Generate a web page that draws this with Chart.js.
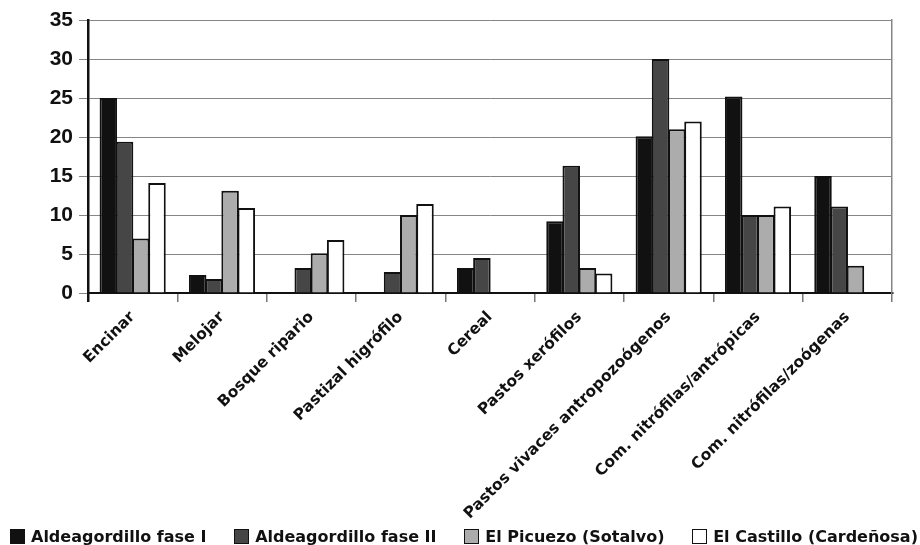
<!DOCTYPE html>
<html>
<head>
<meta charset="utf-8">
<script src="https://cdn.jsdelivr.net/npm/chart.js@4/dist/chart.umd.min.js"></script>
<style>
  html, body { margin: 0; padding: 0; background: #fff; }
  #wrap { position: relative; width: 920px; height: 545px; }
  #chart { display: block; }
  #legend {
    position: absolute; left: 10px; right: 2px; top: 527px;
    display: flex; justify-content: space-between;
    font: bold 16px "DejaVu Sans", Verdana, sans-serif; color: #111;
    white-space: nowrap;
  }
  #legend span.item { display: flex; align-items: center; }
  #legend span.box {
    display: inline-block; width: 13px; height: 13px;
    border: 1.5px solid #111; margin-right: 6px;
  }
</style>
</head>
<body>
<div id="wrap">
  <canvas id="chart" width="920" height="545"></canvas>
  <div id="legend"></div>
</div>
<script>
const categories = [
  "Encinar", "Melojar", "Bosque ripario", "Pastizal higrófilo", "Cereal",
  "Pastos xerófilos", "Pastos vivaces antropozoógenos",
  "Com. nitrófilas/antrópicas", "Com. nitrófilas/zoógenas"
];
const seriesNames = [
  "Aldeagordillo fase I", "Aldeagordillo fase II",
  "El Picuezo (Sotalvo)", "El Castillo (Cardeñosa)"
];
const aldeagordilloI = [25.0, 2.3, 0, 0, 3.2, 9.2, 20.1, 25.2, 15.0];
const aldeagordilloII = [19.4, 1.8, 3.2, 2.7, 4.5, 16.3, 30.0, 10.0, 11.1];
const picuezo = [7.0, 13.1, 5.1, 10.0, 0, 3.2, 21.0, 10.0, 3.5];
const castillo = [14.1, 10.9, 6.8, 11.4, 0, 2.5, 22.0, 11.1, 0];
const yTicks = [0, 5, 10, 15, 20, 25, 30, 35];

const seriesValues = [aldeagordilloI, aldeagordilloII, picuezo, castillo];
const seriesColors = ["#111111", "#464646", "#acacac", "#ffffff"];

const datasets = seriesNames.map((name, index) => ({
  label: name,
  data: seriesValues[index],
  backgroundColor: seriesColors[index],
  borderColor: "#111111",
  borderWidth: 2,
  categoryPercentage: 0.726,
  barPercentage: 1.08
}));

new Chart(document.getElementById("chart"), {
  type: "bar",
  data: { labels: categories, datasets },
  options: {
    responsive: false,
    animation: false,
    devicePixelRatio: 1,
    layout: { padding: { left: 0, right: 28, top: 20, bottom: 0 } },
    plugins: { legend: { display: false }, tooltip: { enabled: false } },
    scales: {
      x: {
        grid: {
          offset: true,
          drawOnChartArea: false,
          color: (ctx) => (ctx.index === 0 ? "#111111" : "#777777"),
          lineWidth: (ctx) => (ctx.index === 0 ? 2.5 : 1.5),
          tickLength: 9
        },
        border: { color: "#111111", width: 2 },
        ticks: {
          color: "#111111",
          font: { family: "'DejaVu Sans'", weight: "bold", size: 15.5 },
          maxRotation: 45,
          minRotation: 45,
          autoSkip: false,
          padding: 6
        },
        afterFit: (scale) => { scale.height = 252; }
      },
      y: {
        min: 0,
        max: 35,
        afterBuildTicks: (scale) => { scale.ticks = yTicks.map((v) => ({ value: v })); },
        grid: { color: "#858585", lineWidth: 1, tickLength: 9 },
        border: { color: "#111111", width: 2.5 },
        ticks: {
          color: "#111111",
          font: { family: "'Liberation Sans'", weight: "bold", size: 21 },
          padding: 6
        },
        afterFit: (scale) => { scale.width = 88; }
      },
      yRight: {
        position: "right",
        min: 0,
        max: 35,
        grid: { display: false },
        ticks: { display: false },
        border: { color: "#858585", width: 1.5 },
        afterFit: (scale) => { scale.width = 0; }
      }
    }
  }
});

const legend = document.getElementById("legend");
seriesNames.forEach((name, index) => {
  const item = document.createElement("span");
  item.className = "item";
  const box = document.createElement("span");
  box.className = "box";
  box.style.background = seriesColors[index];
  item.appendChild(box);
  item.appendChild(document.createTextNode(name));
  legend.appendChild(item);
});
</script>
</body>
</html>
